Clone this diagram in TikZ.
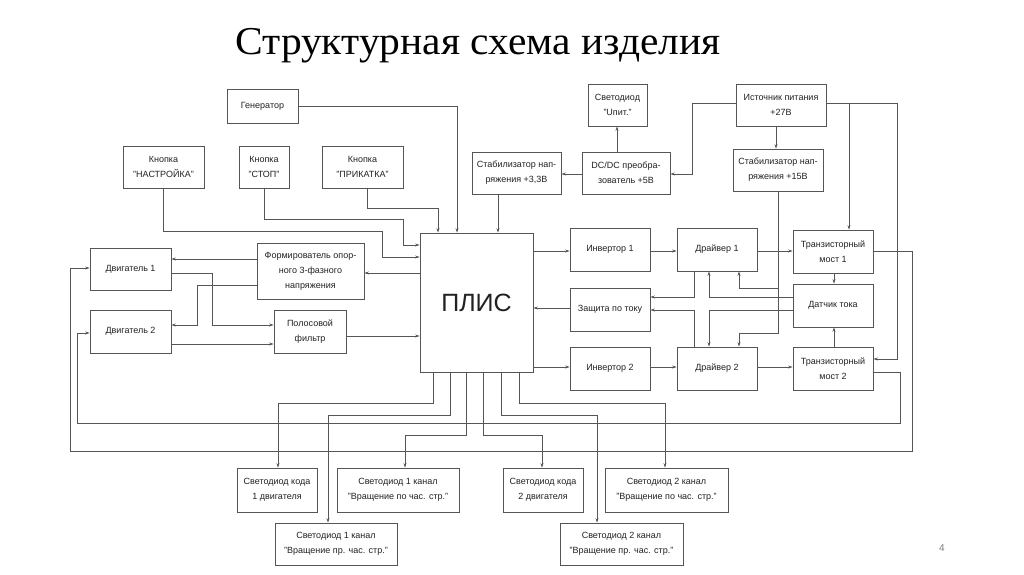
\documentclass[tikz,border=0pt]{standalone}
\usepackage{fontspec}
\setmainfont{Liberation Sans}
\newfontfamily\titlefont[FakeStretch=1.05]{Liberation Serif}
\usetikzlibrary{arrows.meta}
\definecolor{linec}{HTML}{555555}
\definecolor{textc}{HTML}{222222}
\newcommand\blk[6]{\node[box, minimum width={(#4-#2)*1pt}, minimum height={(#5-#3)*1pt}] (#1) at ({(#2+#4)/2},{(#3+#5)/2}) {#6};}
\begin{document}
\begin{tikzpicture}[x=1pt,y=-1pt,
  box/.style={draw=linec, line width=0.8pt, align=center, text=textc, inner sep=0pt,
              font=\fontsize{9}{15}\selectfont},
  arr/.style={draw=linec, line width=0.7pt, -{Stealth[length=4.5pt,width=3pt]}},
  ln/.style={draw=linec, line width=0.7pt}]
\fill[white] (0,0) rectangle (1024,574);
\useasboundingbox (0,0) rectangle (1024,574);

\node[anchor=base, font=\titlefont\fontsize{39.5}{44}\selectfont] (title) at (478,54) {Структурная схема изделия};
\node[font=\fontsize{10}{12}\selectfont, text=gray] (pg) at (942,548) {4};

% top row
\blk{gen}{227}{89}{298}{123}{Генератор}
\blk{bn}{123}{146}{204}{188}{Кнопка\\"НАСТРОЙКА"}
\blk{bs}{239}{146}{289}{188}{Кнопка\\"СТОП"}
\blk{bp}{322}{146}{403}{188}{Кнопка\\"ПРИКАТКА"}
\blk{led}{588}{84}{647}{126}{Светодиод\\"Uпит."}
\blk{src}{736}{84}{826}{126}{Источник питания\\+27В}
\blk{st33}{472}{152}{561}{194}{Стабилизатор нап-\\ряжения +3,3В}
\blk{dcdc}{582}{152}{670}{194}{DC/DC преобра-\\зователь +5В}
\blk{st15}{733}{149}{823}{191}{Стабилизатор нап-\\ряжения +15В}

% middle
\blk{plis}{420}{233}{533}{372}{\fontsize{25}{30}\selectfont ПЛИС}
\blk{form}{257}{243}{364}{299}{\fontsize{9}{14}\selectfont Формирователь опор-\\ного 3-фазного\\напряжения}
\blk{m1}{90}{248}{171}{290}{Двигатель 1}
\blk{m2}{90}{310}{171}{353}{Двигатель 2}
\blk{flt}{274}{310}{346}{353}{Полосовой\\фильтр}
\blk{inv1}{570}{228}{650}{271}{Инвертор 1}
\blk{drv1}{677}{228}{757}{271}{Драйвер 1}
\blk{tm1}{793}{230}{873}{273}{Транзисторный\\мост 1}
\blk{prot}{570}{288}{650}{331}{Защита по току}
\blk{sens}{793}{284}{873}{327}{Датчик тока}
\blk{inv2}{570}{347}{650}{390}{Инвертор 2}
\blk{drv2}{677}{347}{757}{390}{Драйвер 2}
\blk{tm2}{793}{347}{873}{390}{Транзисторный\\мост 2}

% bottom LEDs
\blk{lc1}{237}{468}{317}{512}{Светодиод кода\\1 двигателя}
\blk{l1cw}{337}{468}{459}{512}{Светодиод 1 канал\\"Вращение по час. стр."}
\blk{l1ccw}{275}{523}{397}{565}{Светодиод 1 канал\\"Вращение пр. час. стр."}
\blk{lc2}{503}{468}{583}{512}{Светодиод кода\\2 двигателя}
\blk{l2cw}{605}{468}{728}{512}{Светодиод 2 канал\\"Вращение по час. стр."}
\blk{l2ccw}{560}{523}{683}{565}{Светодиод 2 канал\\"Вращение пр. час. стр."}

% inputs to PLIS from top/left
\draw[arr] (gen.east) -| (plis.north -| 457,0);
\draw[arr] (bp.south -| 367,0) -- (367,208) -| (plis.north -| 438,0);
\draw[arr] (bs.south) |- (403,219) |- (plis.west |- 0,245);
\draw[arr] (bn.south) |- (382,231) |- (plis.west |- 0,257);
\draw[arr] (st33.south -| 498,0) -- (plis.north -| 498,0);

% power
\draw[arr] (src.west |- 0,103) -| (692,174) -- (dcdc.east |- 0,174);
\draw[arr] (dcdc.west |- 0,174) -- (st33.east |- 0,174);
\draw[arr] (dcdc.north -| 617,0) -- (led.south -| 617,0);
\draw[arr] (src.south -| 776,0) -- (st15.north -| 776,0);
\draw[arr] (src.east |- 0,103) -| (tm1.north -| 849,0);
\draw[arr] (src.east |- 0,103) -| (897,359) -- (tm2.east |- 0,359);
\coordinate (j15) at (778,288);
\draw[arr] (st15.south -| 778,0) -- (778,333) -| (drv2.north -| 739,0);
\draw[arr] (j15) -| (drv1.south -| 739,0);

% left side
\draw[arr] (plis.west |- 0,273) -- (form.east |- 0,273);
\draw[arr] (form.west |- 0,259) -- (m1.east |- 0,259);
\draw[arr] (form.west |- 0,285) -| (197,325) -- (m2.east |- 0,325);
\draw[arr] (m1.east |- 0,273) -| (212,325) -- (flt.west |- 0,325);
\draw[arr] (m2.east |- 0,344) -- (flt.west |- 0,344);
\draw[arr] (flt.east |- 0,336) -- (plis.west |- 0,336);

% right chain
\draw[arr] (plis.east |- 0,251) -- (inv1.west |- 0,251);
\draw[arr] (inv1.east |- 0,251) -- (drv1.west |- 0,251);
\draw[arr] (drv1.east |- 0,251) -- (tm1.west |- 0,251);
\draw[arr] (plis.east |- 0,367) -- (inv2.west |- 0,367);
\draw[arr] (inv2.east |- 0,367) -- (drv2.west |- 0,367);
\draw[arr] (drv2.east |- 0,367) -- (tm2.west |- 0,367);
\draw[arr] (prot.west |- 0,308) -- (plis.east |- 0,308);
\draw[arr] (drv1.south -| 694,0) |- (prot.east |- 0,297);
\draw[arr] (drv2.north -| 694,0) |- (prot.east |- 0,310);
\draw[arr] (sens.west |- 0,297) -| (drv1.south -| 709,0);
\draw[arr] (sens.west |- 0,310) -| (drv2.north -| 709,0);
\draw[arr] (tm1.south -| 834,0) -- (sens.north -| 834,0);
\draw[arr] (tm2.north -| 834,0) -- (sens.south -| 834,0);

% feedback to motors
\draw[arr] (tm1.east |- 0,251) -| (912,451) -| (70,268) -- (m1.west |- 0,268);
\draw[arr] (tm2.east |- 0,372) -| (900,423) -| (77,333) -- (m2.west |- 0,333);

% PLIS to LEDs
\draw[arr] (plis.south -| 433,0) |- (278,403) -- (lc1.north -| 278,0);
\draw[arr] (plis.south -| 450,0) |- (328,415) -- (l1ccw.north -| 328,0);
\draw[arr] (plis.south -| 466,0) |- (405,435) -- (l1cw.north -| 405,0);
\draw[arr] (plis.south -| 483,0) |- (542,435) -- (lc2.north -| 542,0);
\draw[arr] (plis.south -| 501,0) |- (597,415) -- (l2ccw.north -| 597,0);
\draw[arr] (plis.south -| 519,0) |- (665,403) -- (l2cw.north -| 665,0);
\end{tikzpicture}
\end{document}
